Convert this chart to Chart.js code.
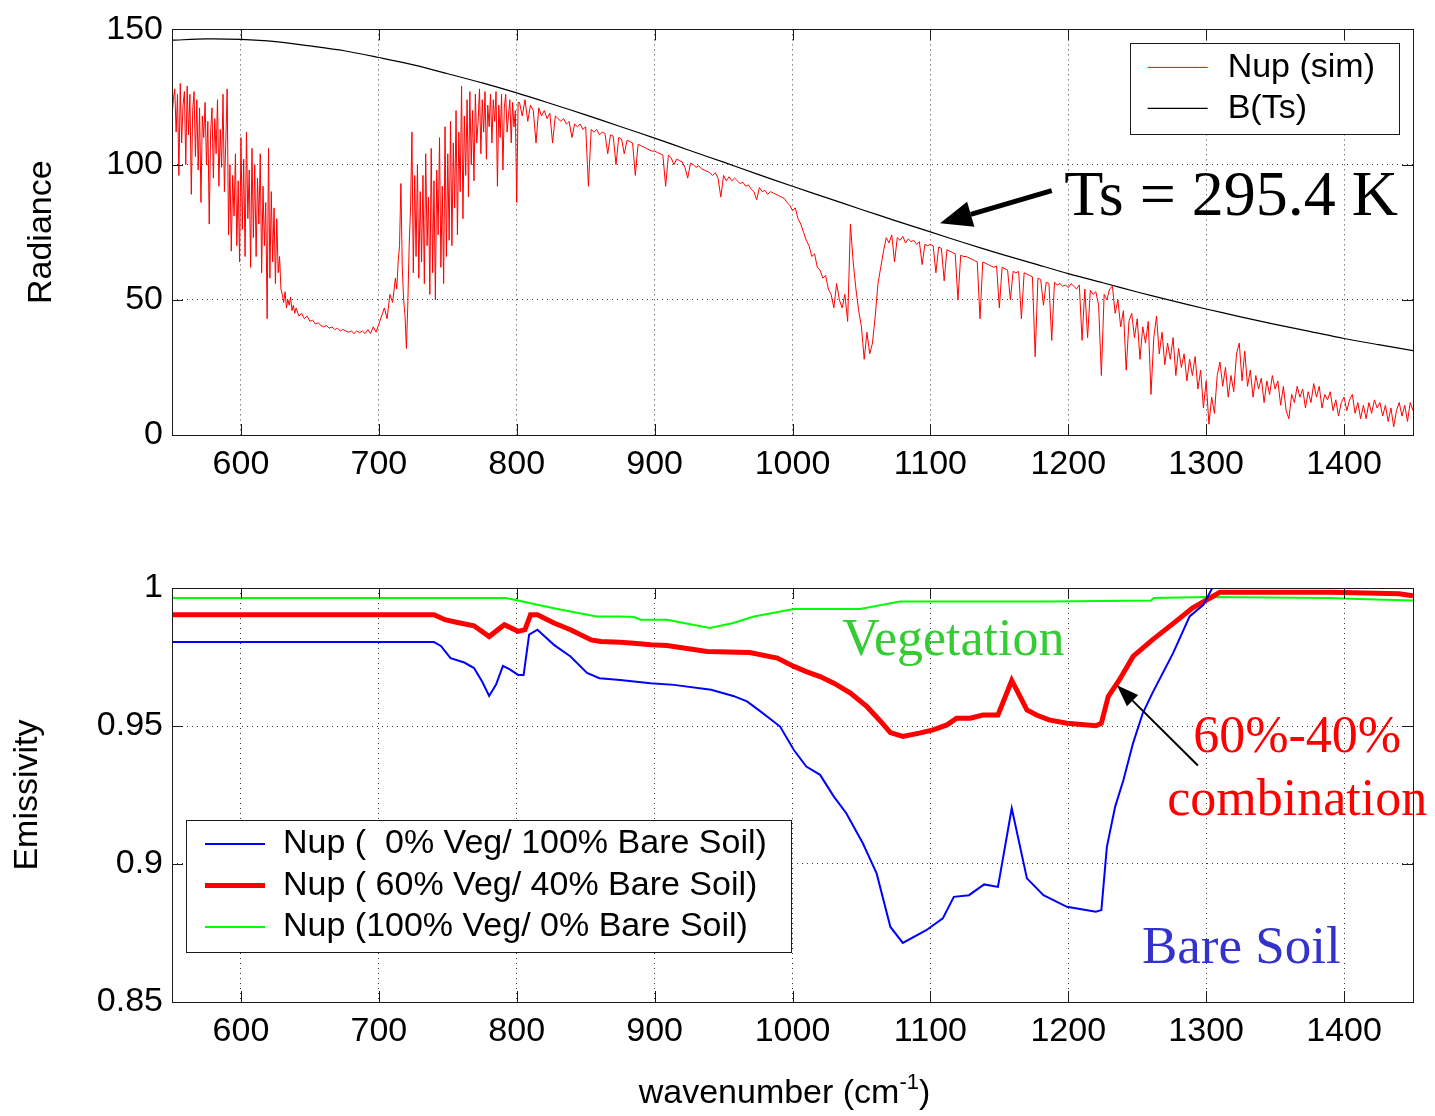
<!DOCTYPE html>
<html>
<head>
<meta charset="utf-8">
<title>Nup radiance / emissivity</title>
<script src="https://cdn.jsdelivr.net/npm/chart.js@4.4.1/dist/chart.umd.min.js"></script>
<style>
    html, body { margin: 0; padding: 0; background: #fff; }
    #wrap { position: relative; width: 1435px; height: 1116px; }
    canvas { position: absolute; left: 0; }
    #radChart { top: 0; }
    #emisChart { top: 540px; }
</style>
</head>
<body>
<div id="wrap">
    <canvas id="radChart" width="1435" height="500"></canvas>
    <canvas id="emisChart" width="1435" height="576"></canvas>
</div>
<script>
// Marcas del eje x
const waveTicks = [600, 700, 800, 900, 1000, 1100, 1200, 1300, 1400];

// Espectro simulado, por tramos (inicio, paso en cm-1)
// Tramo A: 550-639, cada 1 cm-1
const nupBandA = [
    118, 124, 128, 112, 126, 96, 130, 108, 122, 127,
    100, 129, 111, 126, 89, 120, 127, 103, 124, 98,
    121, 86, 118, 110, 123, 100, 116, 78, 112, 121,
    95, 117, 104, 124, 92, 113, 99, 126, 90, 108,
    128, 74, 100, 68, 96, 81, 104, 70, 94, 64,
    110, 76, 102, 66, 112, 80, 98, 62, 106, 73,
    100, 66, 95, 78, 104, 60, 92, 70, 86, 43,
    106, 58, 90, 64, 84, 56, 80, 60, 66, 54,
    52, 49, 53, 47, 50, 48, 51, 46, 48, 45
];
// Tramo B: 640-710, cada 2 cm-1
const nupBandB = [
    47, 44, 45, 43, 44,
    42, 42.5, 41, 41.5, 40.5, 40, 40.5, 39.5, 40, 39,
    39.5, 38.5, 39, 38.5, 38, 38.5, 37.5, 38.5, 37.8, 38.5,
    37.5, 39, 37.5, 40, 38, 41, 44, 47, 43, 52,
    49
];
// Tramo C: 712-801, cada 1 cm-1
const nupBandC = [
    58, 54, 64, 70, 93, 62, 50, 44, 32, 48,
    70, 84, 112, 60, 96, 66, 100, 58, 90, 64,
    96, 56, 104, 70, 88, 52, 106, 60, 94, 50,
    98, 74, 110, 62, 92, 56, 114, 66, 104, 72,
    116, 70, 108, 84, 120, 74, 112, 90, 129, 80,
    118, 96, 124, 88, 127, 100, 120, 94, 126, 108,
    116, 128, 104, 124, 112, 127, 102, 122, 114, 126,
    108, 124, 116, 127, 92, 122, 110, 126, 98, 121,
    126, 112, 118, 124, 108, 123, 114, 120, 86, 123
];
// Tramo D: 802-1450, cada 2 cm-1
const nupBandD = [
    123, 118, 124, 116,
    122, 120, 108, 121, 118, 120, 117, 119, 108, 118,
    117, 116, 117, 115, 116, 110, 115, 114, 115, 113,
    114, 92, 113, 112, 113, 111, 112, 111.5, 104, 111,
    110.5, 100, 110, 109.5, 104, 109, 108.5, 108, 96, 107.5,
    107, 106.5, 106, 105.5, 105, 105, 104.5, 104, 103.5, 92,
    103.5, 102.5, 100, 102, 101.5, 101, 99, 95, 100.5, 100,
    99, 99.5, 98.5, 98, 97.5, 97, 96, 97, 95, 88,
    96, 94, 95.5, 94, 95, 94, 93, 93.5, 92, 92.5,
    91, 90, 87, 91.5, 90, 90.5, 89, 90, 89.5, 89,
    88.5, 88, 87.5, 86, 85, 83, 84, 80, 78, 75,
    72, 70, 66, 67, 62, 61, 58, 59, 54, 52,
    47, 56, 50, 47, 52, 42, 78, 64, 54, 46,
    40, 28, 38, 30, 34, 44, 56, 62, 68, 73,
    71, 74, 64, 73, 72, 73.5, 71, 72.5, 71.5, 72,
    70.5, 71.5, 63, 70.5, 70, 70.5, 70, 60, 69.5, 69,
    57, 68.5, 68, 67.5, 67, 50, 66.5, 66, 66, 65.5,
    65, 64.5, 64, 43, 64, 63.5, 63, 62.5, 62, 62.5,
    47, 62, 61.5, 61, 50, 60.5, 60, 60.5, 43, 60,
    59.5, 59, 58.5, 29, 58, 57.5, 48, 56.5, 56, 35,
    56.5, 55.5, 56, 55, 55.5, 54.5, 56, 55, 54, 55.5,
    35, 54, 36, 53.5, 52, 53, 48, 22, 52, 50,
    54, 55, 45, 50, 40, 46, 24, 42, 45, 36,
    43, 28, 40, 34, 42, 15, 36, 44, 30, 38,
    26, 34, 28, 36, 22, 32, 25, 30, 20, 28,
    22, 29, 17, 24, 10, 20, 4, 14, 8, 22,
    27, 18, 25, 14, 22, 16, 30, 34, 20, 31,
    18, 24, 14, 22, 17, 21, 12, 20, 15, 22,
    17, 20, 11, 18, 9, 6, 15, 12, 18, 14,
    17, 10, 16, 12, 19, 14, 18, 10, 15, 13,
    16, 9, 13, 7, 12, 14, 9, 13, 15, 8,
    12, 6, 11, 6, 12, 8, 13, 10, 12, 7,
    11, 5, 10, 3, 9, 12, 7, 11, 5, 12,
    9
];

// Curva B(Ts)
const planckWavenumber = [550, 575, 600, 625, 650, 675, 700, 725, 750, 775, 800, 825, 850, 875, 900, 925, 950, 975, 1000,
    1025, 1050, 1075, 1100, 1125, 1150, 1175, 1200, 1225, 1250, 1275, 1300, 1325, 1350, 1375, 1400, 1425, 1450];
const planckRadiance = [146.0, 146.5, 146.3, 145.5, 143.9, 142.1, 139.6, 136.9, 133.6, 130.2, 126.5, 122.5, 118.4, 114.1, 109.8, 105.3, 100.9, 96.4, 92.0,
    87.7, 83.4, 79.2, 75.1, 71.0, 67.1, 63.4, 59.7, 56.3, 52.9, 49.7, 46.6, 43.7, 40.9, 38.3, 35.7, 33.4, 31.2];

// Emisividad: suelo desnudo (0% vegetación)
const soilWavenumber = [550, 740, 745, 752, 762, 769, 775, 780, 785, 790, 795, 801, 805, 809, 815, 827, 839, 851, 860, 875,
    897, 914, 941, 957, 967, 977, 991, 1001, 1010, 1020, 1030, 1039, 1051, 1061, 1071, 1080, 1097, 1109, 1117, 1128,
    1139, 1149, 1159, 1170, 1182, 1199, 1220, 1224, 1228, 1234, 1240, 1247, 1254, 1261, 1276, 1288, 1298, 1307, 1320, 1450];
const soilEmissivity = [0.9804, 0.9804, 0.9790, 0.9746, 0.9730, 0.9710, 0.9660, 0.9609, 0.9650, 0.9718, 0.9705, 0.9685, 0.9685, 0.9831, 0.9849, 0.9794, 0.9752, 0.9692, 0.9673, 0.9667,
    0.9655, 0.9649, 0.9631, 0.9609, 0.9589, 0.9552, 0.9498, 0.9413, 0.9353, 0.9323, 0.9244, 0.9184, 0.9075, 0.8966, 0.8772, 0.8714, 0.8760, 0.8803, 0.8881, 0.8887,
    0.8926, 0.8917, 0.9202, 0.8948, 0.8887, 0.8845, 0.8827, 0.8833, 0.9062, 0.9208, 0.9304, 0.9438, 0.9546, 0.9619, 0.9764, 0.9897, 0.9939, 1.0024, 1.005, 1.005];

// Emisividad: mezcla 60% vegetación / 40% suelo
const mixWavenumber = [550, 740, 748, 757, 769, 780, 791, 801, 806, 810, 815, 827, 839, 854, 861, 875, 885, 897, 909, 938,
    969, 989, 1001, 1010, 1020, 1030, 1042, 1054, 1063, 1071, 1080, 1092, 1102, 1112, 1119, 1129, 1138, 1149, 1159, 1170,
    1177, 1186, 1199, 1220, 1224, 1229, 1237, 1247, 1261, 1278, 1290, 1305, 1310, 1391, 1440, 1450];
const mixEmissivity = [0.9903, 0.9903, 0.9885, 0.9875, 0.9863, 0.9824, 0.9867, 0.9843, 0.9849, 0.9903, 0.9903, 0.9873, 0.9849, 0.9812, 0.9806, 0.9803, 0.9800, 0.9794, 0.9792, 0.9770,
    0.9766, 0.9746, 0.9716, 0.9697, 0.9679, 0.9655, 0.9619, 0.9570, 0.9522, 0.9476, 0.9462, 0.9474, 0.9486, 0.9504, 0.9528, 0.9528, 0.9540, 0.9540, 0.9665, 0.9558,
    0.9540, 0.9522, 0.9510, 0.9501, 0.9510, 0.9607, 0.9667, 0.9752, 0.9812, 0.9879, 0.9927, 0.9970, 0.9985, 0.9985, 0.9979, 0.9972];

// Emisividad: vegetación (100%)
const vegWavenumber = [550, 792, 801, 815, 827, 839, 858, 875, 885, 890, 909, 921, 940, 957, 972, 1001, 1049, 1078, 1186, 1260,
    1262, 1300, 1390, 1410, 1450];
const vegEmissivity = [0.9964, 0.9964, 0.9955, 0.9939, 0.9927, 0.9915, 0.9897, 0.9897, 0.9895, 0.9885, 0.9885, 0.9873, 0.9855, 0.9873, 0.9897, 0.9924, 0.9924, 0.9951, 0.9951, 0.9955,
    0.9964, 0.9967, 0.9964, 0.9960, 0.9955];

const sansFont = "'Liberation Sans', Arial, Helvetica, sans-serif";
const serifFont = "'Liberation Serif', 'Times New Roman', serif";

function toPoints(xs, ys) {
    return xs.map((x, i) => ({ x: x, y: ys[i] }));
}

function band(start, step, values) {
    return values.map((v, i) => ({ x: start + i * step, y: v }));
}

const nupPoints = [
    ...band(550, 1, nupBandA),
    ...band(640, 2, nupBandB),
    ...band(712, 1, nupBandC),
    ...band(802, 2, nupBandD)
];

// Caja completa con marcas hacia dentro (estilo MATLAB)
const framePlugin = {
    id: 'frame',
    afterDatasetsDraw(chart) {
        const { ctx, chartArea: a, scales } = chart;
        const len = 11;
        ctx.save();
        ctx.strokeStyle = '#1a1a1a';
        ctx.lineWidth = 1;
        ctx.setLineDash([]);
        ctx.beginPath();
        scales.x.ticks.forEach(t => {
            const px = Math.round(scales.x.getPixelForValue(t.value)) + 0.5;
            ctx.moveTo(px, a.bottom); ctx.lineTo(px, a.bottom - len);
            ctx.moveTo(px, a.top); ctx.lineTo(px, a.top + len);
        });
        scales.y.ticks.forEach(t => {
            const py = Math.round(scales.y.getPixelForValue(t.value)) + 0.5;
            ctx.moveTo(a.left, py); ctx.lineTo(a.left + len, py);
            ctx.moveTo(a.right, py); ctx.lineTo(a.right - len, py);
        });
        ctx.stroke();
        ctx.strokeRect(Math.round(a.left) + 0.5, Math.round(a.top) + 0.5,
            Math.round(a.right - a.left), Math.round(a.bottom - a.top));
        ctx.restore();
    }
};

// Leyenda con recuadro dentro del área del gráfico
const boxLegendPlugin = {
    id: 'boxLegend',
    afterDraw(chart, args, opts) {
        if (!opts.rowHeight) return;
        const { ctx, chartArea: a } = chart;
        const sets = chart.data.datasets;
        ctx.save();
        ctx.font = opts.fontSize + 'px ' + sansFont;
        const textW = Math.max(...sets.map(d => ctx.measureText(d.label).width));
        const w = opts.textGap + textW + opts.padRight;
        const h = opts.padTop + (sets.length - 1) * opts.rowHeight + opts.padBottom;
        const left = opts.right != null ? a.right - opts.right - w : a.left + opts.left;
        const top = opts.top != null ? a.top + opts.top : a.bottom - opts.bottom - h;
        ctx.fillStyle = '#fff';
        ctx.fillRect(left, top, w, h);
        ctx.strokeStyle = '#1a1a1a';
        ctx.lineWidth = 1;
        ctx.strokeRect(Math.round(left) + 0.5, Math.round(top) + 0.5, Math.round(w), Math.round(h));
        sets.forEach((d, i) => {
            const y = top + opts.padTop + i * opts.rowHeight;
            ctx.strokeStyle = d.borderColor;
            ctx.lineWidth = d.borderWidth;
            ctx.beginPath();
            ctx.moveTo(left + opts.lineInset, y);
            ctx.lineTo(left + opts.lineInset + opts.lineLength, y);
            ctx.stroke();
            ctx.fillStyle = '#000';
            ctx.textAlign = 'left';
            ctx.textBaseline = 'middle';
            ctx.fillText(d.label, left + opts.textGap, y);
        });
        ctx.restore();
    }
};

// Textos y flechas anclados a coordenadas de datos
const notesPlugin = {
    id: 'notes',
    afterDraw(chart, args, opts) {
        const { ctx, scales: { x, y } } = chart;
        ctx.save();
        (opts.arrows || []).forEach(ar => {
            const x0 = x.getPixelForValue(ar.from[0]), y0 = y.getPixelForValue(ar.from[1]);
            const x1 = x.getPixelForValue(ar.to[0]), y1 = y.getPixelForValue(ar.to[1]);
            const ang = Math.atan2(y1 - y0, x1 - x0);
            const bx = x1 - ar.headLength * Math.cos(ang);
            const by = y1 - ar.headLength * Math.sin(ang);
            const hw = ar.headWidth / 2;
            ctx.strokeStyle = '#000';
            ctx.fillStyle = '#000';
            ctx.lineWidth = ar.width;
            ctx.beginPath();
            ctx.moveTo(x0, y0);
            ctx.lineTo(bx, by);
            ctx.stroke();
            ctx.beginPath();
            ctx.moveTo(x1, y1);
            ctx.lineTo(bx + hw * Math.sin(ang), by - hw * Math.cos(ang));
            ctx.lineTo(bx - hw * Math.sin(ang), by + hw * Math.cos(ang));
            ctx.closePath();
            ctx.fill();
        });
        (opts.labels || []).forEach(l => {
            ctx.font = l.size + 'px ' + serifFont;
            ctx.fillStyle = l.color;
            ctx.textAlign = l.align || 'left';
            ctx.textBaseline = 'alphabetic';
            ctx.fillText(l.text, x.getPixelForValue(l.x), y.getPixelForValue(l.y));
        });
        ctx.restore();
    }
};

// Título del eje x con superíndice
const xTitlePlugin = {
    id: 'xTitle',
    afterDraw(chart, args, opts) {
        if (!opts.text) return;
        const { ctx, chartArea: a } = chart;
        const mainFont = opts.size + 'px ' + sansFont;
        const supFont = opts.supSize + 'px ' + sansFont;
        ctx.save();
        ctx.font = mainFont;
        const w1 = ctx.measureText(opts.text).width;
        const w3 = ctx.measureText(opts.after).width;
        ctx.font = supFont;
        const w2 = ctx.measureText(opts.sup).width;
        let px = (a.left + a.right) / 2 + opts.shift - (w1 + w2 + w3) / 2;
        const base = a.bottom + opts.offset;
        ctx.fillStyle = '#000';
        ctx.textAlign = 'left';
        ctx.textBaseline = 'alphabetic';
        ctx.font = mainFont;
        ctx.fillText(opts.text, px, base);
        px += w1;
        ctx.font = supFont;
        ctx.fillText(opts.sup, px, base - opts.supRaise);
        px += w2;
        ctx.font = mainFont;
        ctx.fillText(opts.after, px, base);
        ctx.restore();
    }
};

const tickFont = { family: sansFont, size: 34 };
const gridStyle = { color: '#3a3a3a', lineWidth: 1, drawTicks: false };
const borderStyle = { display: false, dash: [1, 4] };

function xScale(height) {
    return {
        type: 'linear',
        min: 550,
        max: 1450,
        ticks: {
            autoSkip: false, maxRotation: 0,
            color: '#000', font: tickFont, padding: 9,
            callback: v => String(v)
        },
        grid: gridStyle,
        border: borderStyle,
        afterBuildTicks: s => { s.ticks = waveTicks.map(v => ({ value: v })); },
        afterFit: s => { s.height = height; }
    };
}

function yScale(min, max, step, title, titlePad) {
    return {
        type: 'linear',
        min: min,
        max: max,
        ticks: {
            stepSize: step, color: '#000', font: tickFont, padding: 9,
            callback: v => String(Math.round(v * 100) / 100)
        },
        grid: gridStyle,
        border: borderStyle,
        title: {
            display: true, text: title, color: '#000',
            font: { family: sansFont, size: 34 },
            padding: { top: titlePad, bottom: 0 }
        },
        afterFit: s => { s.width = 172; }
    };
}

const basePlugins = { legend: { display: false }, tooltip: { enabled: false } };

// Panel superior: radiancia
new Chart(document.getElementById('radChart'), {
    type: 'line',
    data: {
        datasets: [
            { label: 'Nup (sim)', data: nupPoints, borderColor: '#ff0000', borderWidth: 1, pointRadius: 0, tension: 0 },
            { label: 'B(Ts)', data: toPoints(planckWavenumber, planckRadiance), borderColor: '#000000', borderWidth: 1.2, pointRadius: 0, tension: 0.3 }
        ]
    },
    options: {
        responsive: false,
        animation: false,
        events: [],
        layout: { padding: { top: 23, right: 22, left: 0, bottom: 0 } },
        scales: { x: xScale(65), y: yScale(0, 150, 50, 'Radiance', 21) },
        plugins: Object.assign({}, basePlugins, {
            boxLegend: { right: 14, top: 14, fontSize: 34, rowHeight: 41, padTop: 24, padBottom: 26, lineInset: 18, lineLength: 60, textGap: 98, padRight: 24 },
            notes: {
                labels: [{ text: 'Ts = 295.4 K', x: 1197, y: 81.3, size: 64, color: '#000' }],
                arrows: [{ from: [1188, 90.4], to: [1107, 78.3], width: 5, headLength: 32, headWidth: 26 }]
            }
        })
    },
    plugins: [framePlugin, notesPlugin, boxLegendPlugin]
});

// Panel inferior: emisividad
new Chart(document.getElementById('emisChart'), {
    type: 'line',
    data: {
        datasets: [
            { label: 'Nup (  0% Veg/ 100% Bare Soil)', data: toPoints(soilWavenumber, soilEmissivity), borderColor: '#0000ff', borderWidth: 2, pointRadius: 0, tension: 0 },
            { label: 'Nup ( 60% Veg/ 40% Bare Soil)', data: toPoints(mixWavenumber, mixEmissivity), borderColor: '#ff0000', borderWidth: 5, pointRadius: 0, tension: 0 },
            { label: 'Nup (100% Veg/ 0% Bare Soil)', data: toPoints(vegWavenumber, vegEmissivity), borderColor: '#00ff00', borderWidth: 2, pointRadius: 0, tension: 0 }
        ]
    },
    options: {
        responsive: false,
        animation: false,
        events: [],
        layout: { padding: { top: 48, right: 22, left: 0, bottom: 0 } },
        scales: { x: xScale(114), y: yScale(0.85, 1, 0.05, 'Emissivity', 7) },
        plugins: Object.assign({}, basePlugins, {
            boxLegend: { left: 14, bottom: 50, fontSize: 34, rowHeight: 41.5, padTop: 24, padBottom: 25, lineInset: 19, lineLength: 60, textGap: 97, padRight: 24 },
            notes: {
                labels: [
                    { text: 'Vegetation', x: 1036, y: 0.9758, size: 52, color: '#33cc33' },
                    { text: '60%-40%', x: 1366, y: 0.9406, size: 52, color: '#ff0000', align: 'center' },
                    { text: 'combination', x: 1366, y: 0.9177, size: 52, color: '#ff0000', align: 'center' },
                    { text: 'Bare Soil', x: 1253.4, y: 0.8641, size: 53, color: '#3333cc' }
                ],
                arrows: [{ from: [1294, 0.9357], to: [1235.3, 0.9648], width: 2, headLength: 22, headWidth: 16 }]
            },
            xTitle: { text: 'wavenumber (cm', sup: '-1', after: ')', size: 34, supSize: 22, supRaise: 14, offset: 101, shift: -8 }
        })
    },
    plugins: [framePlugin, notesPlugin, boxLegendPlugin, xTitlePlugin]
});
</script>
</body>
</html>
